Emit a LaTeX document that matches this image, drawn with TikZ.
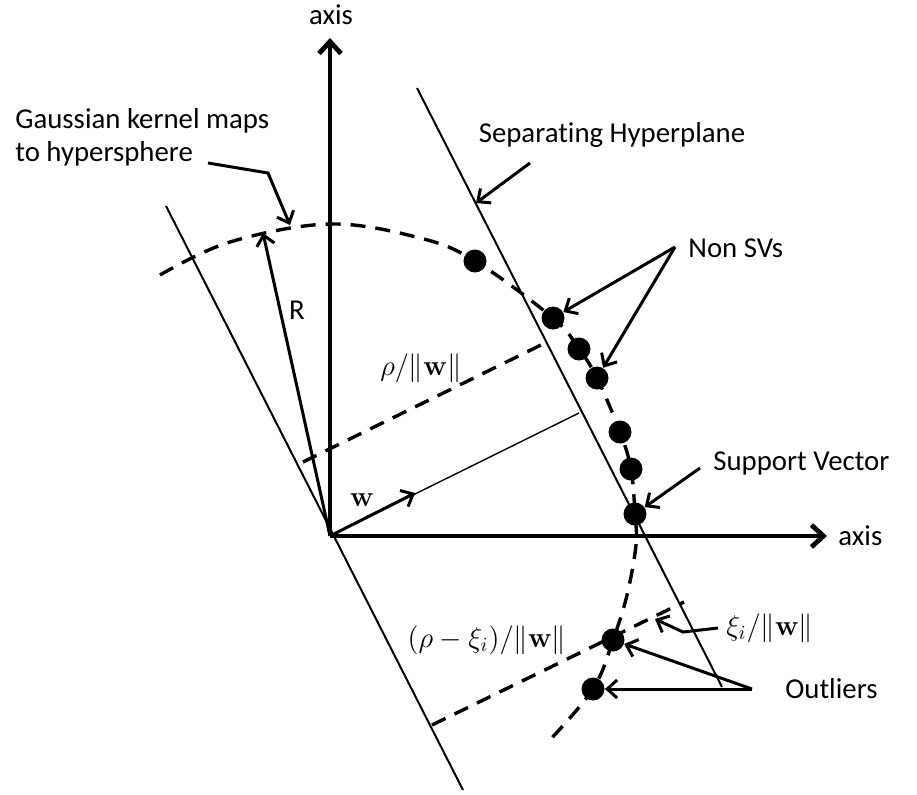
\documentclass[tikz,border=0pt]{standalone}
\usepackage[no-math]{fontspec}
\setmainfont{Carlito}[Ligatures={NoCommon,TeX}]
\usepackage{amsmath}
\usetikzlibrary{arrows.meta, positioning}
\tikzset{
	lbl/.style={font=\fontsize{14.4}{16.5}\selectfont, inner sep=0pt}
}
\tikzset{
	axisline/.style={line width=2.4pt, -{Straight Barb[length=6pt,width=11pt]}},
	callout/.style={line width=1.5pt, -{Straight Barb[length=5pt,width=9pt]}},
	thinline/.style={line width=1pt},
	sphere/.style={line width=1.7pt, dash pattern=on 7.5pt off 5pt},
	svdot/.style={circle, fill=black, minimum size=11.5pt, inner sep=0pt}
}

\begin{document}
\begin{tikzpicture}[x=0.5pt, y=-0.5pt]
      \useasboundingbox (0,0) rectangle (917,794);
      % axes
      \coordinate (O) at (330,536);
      \coordinate (ytop) at (330,38);
      \coordinate (xend) at (827,536);
      \draw[axisline] (O) -- (ytop);
      \draw[axisline] (O) -- (xend);
      \node[lbl] (ylab) at (331,15) {axis};
      \node[lbl, anchor=west] (xlab) at (838,536) {axis};
      % planes through the origin and at rho
      \coordinate (lTop) at (166,206);
      \coordinate (lBot) at (463,790);
      \coordinate (hTop) at (417,88);
      \coordinate (hBot) at (722,687);
      \draw[thinline] (lTop) -- (lBot);
      \draw[thinline] (hTop) -- (hBot);
      % normal vector w
      \coordinate (wTip) at (415,493);
      \coordinate (wEnd) at (579,413);
      \draw[line width=0.7pt] (O) -- (wEnd);
      \draw[callout] (O) -- (wTip);
      \node[lbl] (wlab) at (362,500) {$\mathbf{w}$};
      % radius
      \coordinate (rTip) at (263,233);
      \draw[callout] (O) -- (rTip);
      \node[lbl] (rlab) at (297,310) {R};
      % distances
      \coordinate (pA) at (303,462);
      \coordinate (pB) at (545,343);
      \coordinate (qA) at (432,725);
      \coordinate (qB) at (684,602);
      \draw[sphere] (pA) -- (pB);
      \draw[sphere] (qA) -- (qB);
      \node[lbl] (rholab) at (421,368) {$\rho/\|\mathbf{w}\|$};
      \node[lbl] (rxilab) at (487,640) {$(\rho-\xi_i)/\|\mathbf{w}\|$};
      % hypersphere
      \draw[sphere] plot[smooth, tension=0.6] coordinates {
        (160,275) (230,242) (330,224) (420,238) (475,261) (553,318)
        (579,349) (597,378) (620,432) (631,469) (635,514) (636,545)
        (627,595) (613,640) (593,689) (548,742)};
      \foreach \n/\x/\y in {d1/475/261, d2/553/318, d3/579/349, d4/597/378,
        d5/620/432, d6/631/469, d7/635/514, o1/613/640, o2/593/689}
        \node[svdot] (\n) at (\x,\y) {};
      % callouts
      \node[lbl, anchor=west, align=left] (gauss) at (15,137) {Gaussian kernel maps\\to hypersphere};
      \coordinate (gA) at (208,163);
      \coordinate (gB) at (268,173);
      \coordinate (gC) at (290,225);
      \draw[callout] (gA) -- (gB) -- (gC);
      \node[lbl] (seplab) at (612,135) {Separating Hyperplane};
      \coordinate (sA) at (530,163);
      \coordinate (sB) at (476,203);
      \draw[callout] (sA) -- (sB);
      \node[lbl, anchor=west] (nsvlab) at (688,248) {Non SVs};
      \coordinate (nA) at (675,247);
      \draw[callout] (nA) -- (d2);
      \draw[callout] (nA) -- (d4);
      \node[lbl, anchor=west] (svlab) at (713,463) {Support Vector};
      \coordinate (vA) at (700,468);
      \draw[callout] (vA) -- (d7);
      \node[lbl, anchor=west] (outlab) at (785,689) {Outliers};
      \coordinate (oA) at (752,689);
      \draw[callout] (oA) -- (o1);
      \draw[callout] (oA) -- (o2);
      \node[lbl, anchor=west] (xilab) at (726,628) {$\xi_i/\|\mathbf{w}\|$};
      \coordinate (xA) at (718,628);
      \coordinate (xB) at (683,632);
      \coordinate (xC) at (655,619);
      \draw[callout] (xA) -- (xB) -- (xC);
\end{tikzpicture}
\end{document}
